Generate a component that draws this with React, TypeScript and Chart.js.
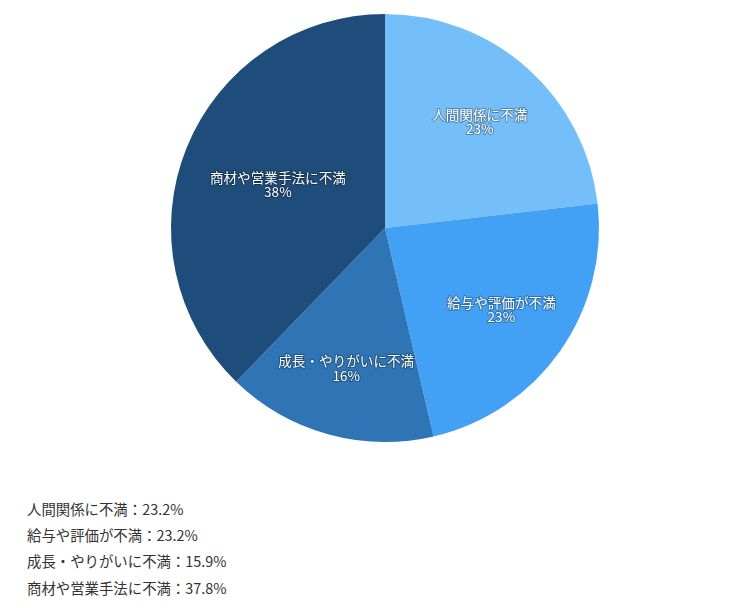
import React, { useEffect, useRef } from "react";
import { Chart, registerables } from "chart.js";

Chart.register(...registerables);

const categories = ["人間関係に不満", "給与や評価が不満", "成長・やりがいに不満", "商材や営業手法に不満"];
const values = [23.2, 23.2, 15.9, 37.8];
const sliceColors = ["#74BFF9", "#42A1F5", "#2F74B5", "#1F4D7B"];
const labelRadius = [0.665, 0.665, 0.68, 0.54];

const labelPlugin = {
  id: "sliceLabels",
  afterDatasetsDraw(chart: any) {
    const ctx = chart.ctx;
    const meta = chart.getDatasetMeta(0);
    ctx.save();
    ctx.font = '13.6px "Noto Sans CJK JP", sans-serif';
    ctx.textAlign = "center";
    ctx.textBaseline = "middle";
    meta.data.forEach((arc: any, i: number) => {
      const p = arc.getProps(["startAngle", "endAngle", "x", "y", "outerRadius"], true);
      const mid = (p.startAngle + p.endAngle) / 2;
      const r = p.outerRadius * labelRadius[i];
      const cx = p.x + Math.cos(mid) * r;
      const cy = p.y + Math.sin(mid) * r;
      const lines = [categories[i], Math.round(values[i]) + "%"];
      lines.forEach((t, j) => {
        const y = cy + (j - 0.5) * 14.5;
        ctx.lineWidth = 2;
        ctx.strokeStyle = "rgba(0,0,0,0.3)";
        ctx.lineJoin = "round";
        ctx.strokeText(t, cx, y);
        ctx.fillStyle = "#ffffff";
        ctx.fillText(t, cx, y);
      });
    });
    ctx.restore();
  },
};

export default function App() {
  const ref = useRef<HTMLCanvasElement>(null);
  useEffect(() => {
    if (!ref.current) return;
    const chart = new Chart(ref.current, {
      type: "pie",
      data: {
        labels: categories,
        datasets: [
          {
            data: values,
            backgroundColor: sliceColors,
            borderWidth: 0,
          },
        ],
      },
      options: {
        animation: false,
        responsive: true,
        maintainAspectRatio: false,
        layout: { padding: { left: 25, top: 6, bottom: 6, right: 0 } },
        plugins: {
          legend: { display: false },
          tooltip: { enabled: false },
        },
      },
      plugins: [labelPlugin],
    });
    return () => chart.destroy();
  }, []);

  return (
    <div style={{ fontFamily: '"Noto Sans CJK JP", sans-serif' }}>
      <div style={{ position: "relative", width: "100%", height: 440 }}>
        <canvas ref={ref} />
      </div>
      <div style={{ paddingLeft: 19, paddingTop: 48, color: "#333333", fontSize: 14.4 }}>
        {categories.map((c, i) => (
          <div key={c} style={{ height: 26.2, lineHeight: "26.2px" }}>
            {c}：{values[i].toFixed(1)}%
          </div>
        ))}
      </div>
    </div>
  );
}
